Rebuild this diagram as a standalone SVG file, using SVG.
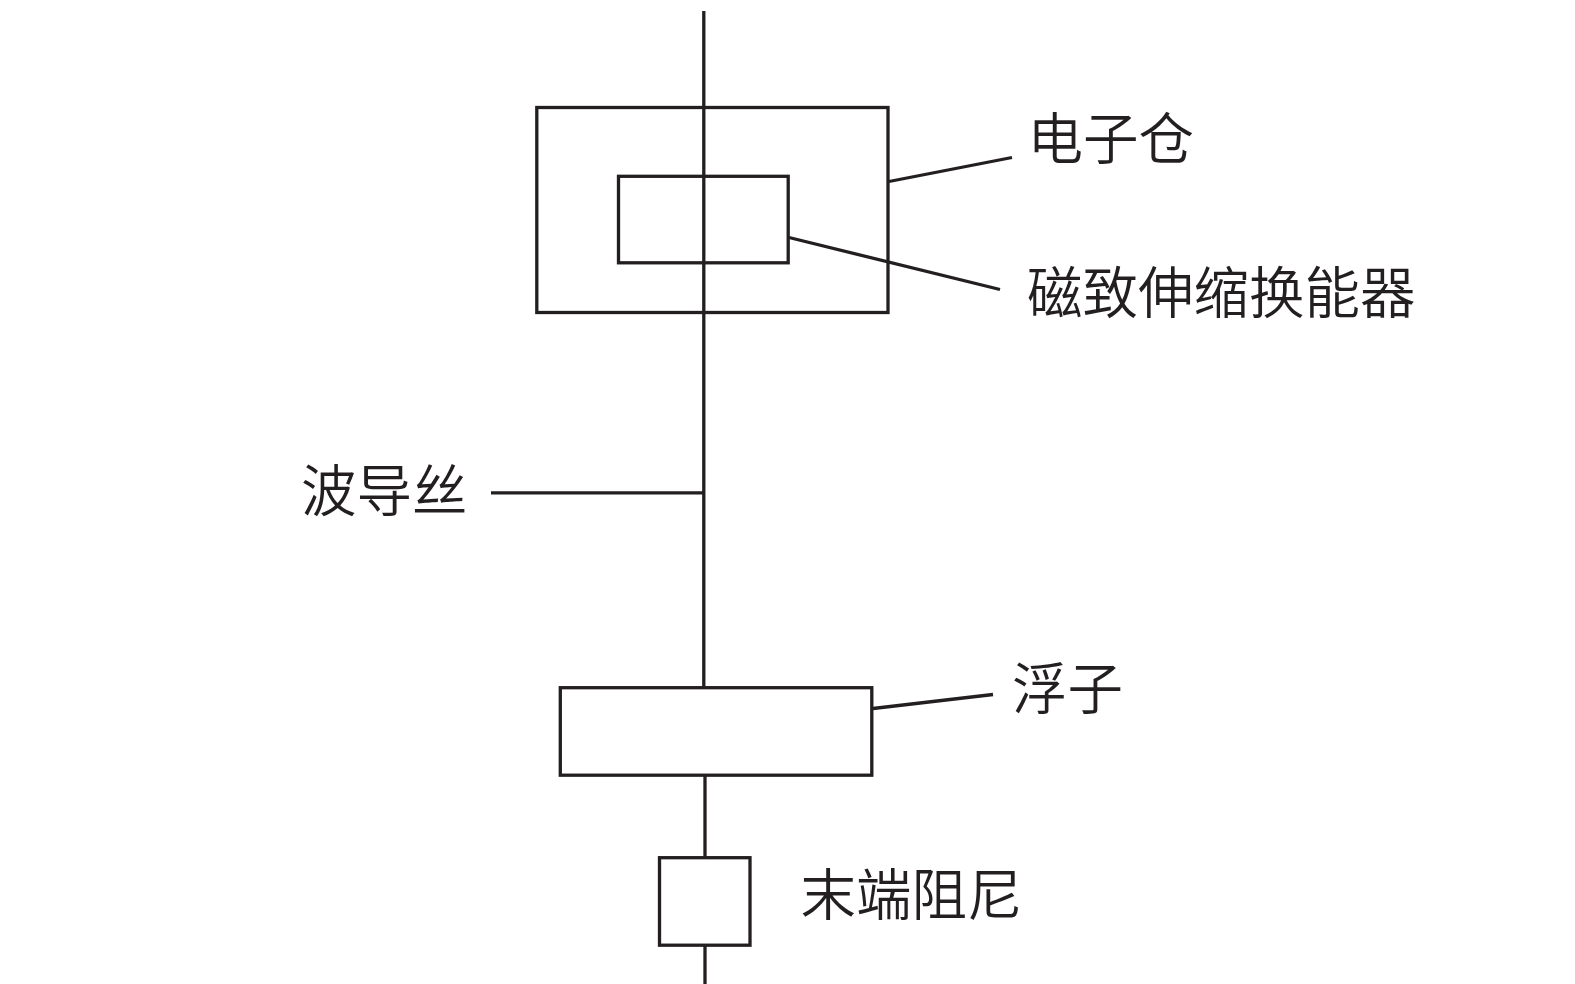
<svg xmlns="http://www.w3.org/2000/svg" width="1575" height="984" viewBox="0 0 1575 984">
<style>
.s{fill:none;stroke:#231f20;stroke-width:3.3}
.b{fill:#fff;stroke:#231f20;stroke-width:3.3}
text{font-family:"Noto Sans CJK SC","Noto Sans CJK TC",sans-serif;font-size:55.5px;fill:#231f20;font-weight:350}
</style>
<rect width="1575" height="984" fill="#fff"/>
<g id="connectors">
<path class="s" d="M703.800 11V688M705 776V858M705 946V984M491 492.800H704M889 181.500L1012 157.500M789 237.500L1000 289.500M873 708.500L993 694.500"/>
</g>
<g id="cabin"><rect class="s" x="536.800" y="107.500" width="351.200" height="205"/><text x="1027.500" y="159">电子仓</text></g>
<g id="transducer"><rect class="s" x="618.500" y="176.300" width="169.700" height="86.500"/><text x="1027" y="313">磁致伸缩换能器</text></g>
<g id="wire"><text x="301" y="511">波导丝</text></g>
<g id="float"><rect class="b" x="560.300" y="687.700" width="311.500" height="87.500"/><text x="1012" y="709">浮子</text></g>
<g id="damper"><rect class="b" x="659.500" y="857.700" width="90.500" height="87.500"/><text x="800.500" y="915">末端阻尼</text></g>
</svg>
